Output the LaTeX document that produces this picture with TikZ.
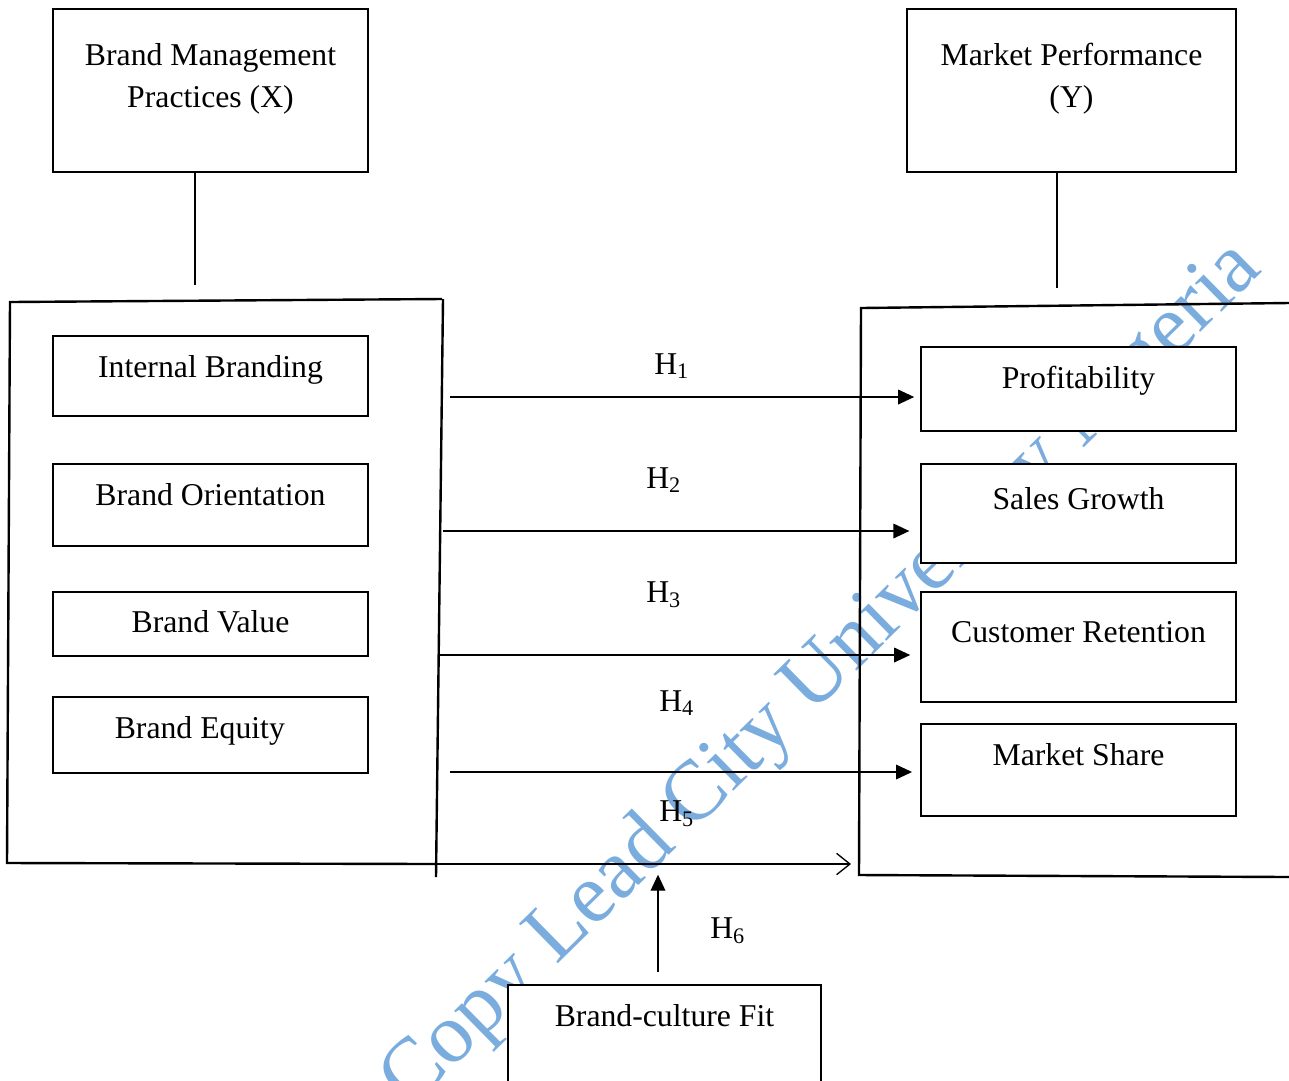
\documentclass[tikz,border=0pt]{standalone}
\usepackage{fontspec}
\setmainfont{Liberation Serif}
\usepackage{xcolor}
\usetikzlibrary{arrows.meta}
\definecolor{markblue}{RGB}{122,172,222}
\tikzstyle{factor}=[draw, rectangle, fill=white, line width=0.75pt, text height=8pt, inner sep=2pt, font=\fontsize{11.9}{15.75}\selectfont]
\tikzstyle{hyp}=[inner sep=1pt, font=\fontsize{11.9}{14}\selectfont]
\tikzstyle{link}=[line width=0.5pt, -{Triangle[length=6pt, width=5.5pt]}]
\tikzstyle{frame}=[line width=0.9pt]

\begin{document}
\begin{tikzpicture}[x=0.375pt, y=-0.375pt]
        \useasboundingbox (0,0) rectangle (1289,1080);
        \clip (0,0) rectangle (1289,1080);
        % watermark
        \node[markblue, rotate=44.5, anchor=base west, inner sep=0pt, font=\fontsize{31.8}{36}\selectfont] (mark) at (410,1110) {Copy Lead City University Nigeria};

        % main variables
        \node[factor, minimum width=118.1pt, minimum height=61.1pt, text height=12.9pt, text depth=0pt, align=center] (bmp) at (210.5,90.5) {Brand Management\\Practices (X)};
        \node[factor, minimum width=123.4pt, minimum height=61.1pt, text height=12.9pt, text depth=0pt, align=center] (mp) at (1071.5,90.5) {Market Performance\\(Y)};

        % containers
        \draw[frame] (442,299) -- (10,302) -- (7,863) -- (436,864);
        \draw[frame] (443,299) -- (436,877);
        \draw[frame] (1289,303) -- (861,308) -- (859,875) -- (1289,877);

        % dimensions of X
        \node[factor, minimum width=118.1pt, minimum height=30pt, text depth=6.75pt] (ib) at (210.5,376) {Internal Branding};
        \node[factor, minimum width=118.1pt, minimum height=30.75pt, text depth=7.5pt] (bo) at (210.5,505) {Brand Orientation};
        \node[factor, minimum width=118.1pt, minimum height=24pt, text depth=1.5pt] (bv) at (210.5,624) {Brand Value};
        \node[factor, minimum width=118.1pt, minimum height=28.5pt, text depth=5.25pt] (be) at (210.5,735) {Brand Equity\kern8pt};

        % dimensions of Y
        \node[factor, minimum width=118.1pt, minimum height=31.5pt, text depth=8.25pt] (prof) at (1078.5,389) {Profitability};
        \node[factor, minimum width=118.1pt, minimum height=37.1pt, text depth=10.9pt] (sales) at (1078.5,513.5) {Sales Growth};
        \node[factor, minimum width=118.1pt, minimum height=41.25pt, text depth=11.25pt] (cust) at (1078.5,647) {Customer Retention};
        \node[factor, minimum width=118.1pt, minimum height=34.5pt, text depth=11.25pt] (share) at (1078.5,770) {Market Share};

        % moderator
        \node[factor, minimum width=117.4pt, minimum height=50.6pt, text depth=27.4pt] (fit) at (664.5,1052.5) {Brand-culture Fit};

        % legs from the main variables
        \coordinate (xleg) at (195,285);
        \coordinate (yleg) at (1057,288);
        \draw[line width=1.1pt] (bmp.south -| xleg) -- (xleg);
        \draw[line width=1.1pt] (mp.south -| yleg) -- (yleg);

        % hypotheses
        \coordinate (t1) at (450,397);
        \coordinate (t2) at (443,531);
        \coordinate (t3) at (438,655);
        \coordinate (t4) at (450,772);
        \foreach \t/\tgt/\gap in {t1/prof/2.2, t2/sales/4, t3/cust/3.7, t4/share/3} {
            \draw[link, shorten >=\gap pt] (\t) -- (\t -| \tgt.west);
        }
        \coordinate (t5) at (436,864);
        \coordinate (e5) at (851,864);
        \draw[line width=0.5pt, -{Straight Barb[length=5pt, width=8pt]}] (t5) -- (e5);
        \coordinate (t6) at (658,972);
        \draw[link, shorten >=4pt] (t6) -- (t6 |- e5);

        \foreach \i/\x/\y in {1/672/366, 2/664/480, 3/664/595, 4/677/703, 5/677/814, 6/728/931} {
            \node[hyp] (h\i) at (\x,\y) {H\textsubscript{\i}};
        }
    \end{tikzpicture}
\end{document}
